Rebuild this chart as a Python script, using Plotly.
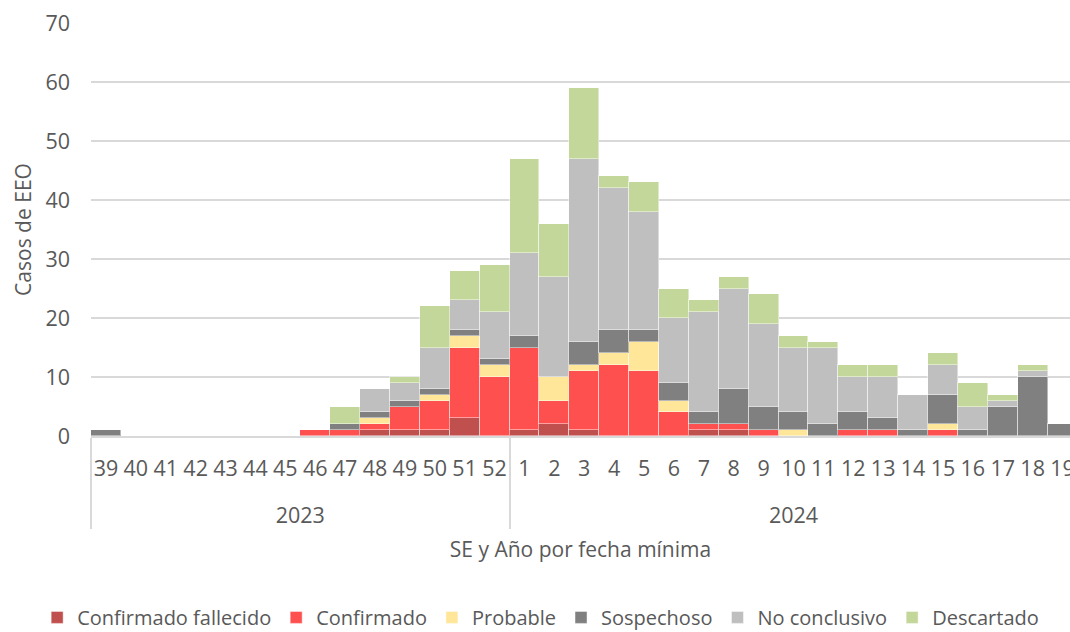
import plotly.graph_objects as go

years = ["2023"] * 14 + ["2024"] * 19
weeks = [str(w) for w in range(39, 53)] + [str(w) for w in range(1, 20)]

confirmado_fallecido = [0, 0, 0, 0, 0, 0, 0, 0, 0, 1, 1, 1, 3, 0,
                        1, 2, 1, 0, 0, 0, 1, 1, 0, 0, 0, 0, 0, 0, 0, 0, 0, 0, 0]
confirmado = [0, 0, 0, 0, 0, 0, 0, 1, 1, 1, 4, 5, 12, 10,
              14, 4, 10, 12, 11, 4, 1, 1, 1, 0, 0, 1, 1, 0, 1, 0, 0, 0, 0]
probable = [0, 0, 0, 0, 0, 0, 0, 0, 0, 1, 0, 1, 2, 2,
            0, 4, 1, 2, 5, 2, 0, 0, 0, 1, 0, 0, 0, 0, 1, 0, 0, 0, 0]
sospechoso = [1, 0, 0, 0, 0, 0, 0, 0, 1, 1, 1, 1, 1, 1,
              2, 0, 4, 4, 2, 3, 2, 6, 4, 3, 2, 3, 2, 1, 5, 1, 5, 10, 2]
no_conclusivo = [0, 0, 0, 0, 0, 0, 0, 0, 0, 4, 3, 7, 5, 8,
                 14, 17, 31, 24, 20, 11, 17, 17, 14, 11, 13, 6, 7, 6, 5, 4, 1, 1, 0]
descartado = [0, 0, 0, 0, 0, 0, 0, 0, 3, 0, 1, 7, 5, 8,
              16, 9, 12, 2, 5, 5, 2, 2, 5, 2, 1, 2, 2, 0, 2, 4, 1, 1, 0]

series = [
    ("Confirmado fallecido", confirmado_fallecido, "#C0504D"),
    ("Confirmado", confirmado, "#FF5050"),
    ("Probable", probable, "#FFE699"),
    ("Sospechoso", sospechoso, "#808080"),
    ("No conclusivo", no_conclusivo, "#BFBFBF"),
    ("Descartado", descartado, "#C4D79B"),
]

FONT = "Open Sans"
TXT = "#595959"

# year labels pushed one line lower to match the reference spacing
year_labels = ["<br>" + y for y in years]

fig = go.Figure()
for name, vals, col in series:
    fig.add_trace(go.Bar(
        x=[year_labels, weeks], y=vals, name=name,
        marker=dict(color=col, line=dict(color="rgba(255,255,255,0.45)", width=1)),
    ))

fig.update_layout(
    width=1070, height=632,
    barmode="stack", bargap=0,
    plot_bgcolor="white", paper_bgcolor="white",
    margin=dict(l=91, r=0, t=23, b=196, autoexpand=False),
    font=dict(family=FONT, color=TXT, size=21),
    showlegend=True,
    legend=dict(orientation="h",
                x=-0.055, xanchor="left", y=-0.392, yanchor="top",
                font=dict(size=20, color=TXT), traceorder="normal",
                itemwidth=30),
)
fig.update_xaxes(
    type="multicategory",
    automargin=False,
    range=[-0.5, 32.25],
    showgrid=False,
    showline=True, linecolor="#D9D9D9", linewidth=1.5,
    ticks="", tickangle=0,
    ticklabelstandoff=12,
    tickfont=dict(size=21.5, color=TXT, family=FONT),
    showdividers=True, dividercolor="#D9D9D9", dividerwidth=1.5,
    title=dict(text="SE y Año por fecha mínima", font=dict(size=21, color=TXT), standoff=15),
)
fig.update_yaxes(
    automargin=False,
    range=[0, 70.02], dtick=10,
    showgrid=True, gridcolor="#D9D9D9", gridwidth=1.5,
    zeroline=False, showline=False,
    tickfont=dict(size=21.5, color=TXT, family=FONT),
    ticklabelstandoff=20,
    title=dict(text="Casos de EEO", font=dict(size=21, color=TXT), standoff=8),
)

# remove the default page margin so the 1070x632 figure fills the window exactly
fig.write_html(
    "out.html",
    config={"displayModeBar": False},
    post_script="document.body.style.margin='0';document.documentElement.style.overflow='hidden';",
)
